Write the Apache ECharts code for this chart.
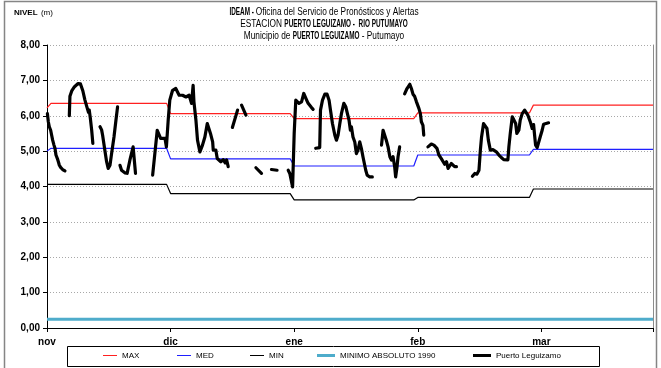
<!DOCTYPE html>
<html>
<head>
<meta charset="utf-8">
<script src="https://cdn.jsdelivr.net/npm/echarts@6/dist/echarts.min.js"></script>
<style>
html,body{margin:0;padding:0;background:#fff;}
#chart{width:661px;height:368px;}
</style>
</head>
<body>
<div id="chart"></div>
<script>
// Time axis: days counted from 31 October; month labels every 31 days
const monthLabels = ['nov', 'dic', 'ene', 'feb', 'mar'];
const monthLabelDays = [0, 31, 62, 93, 124];
// First day of each month on the same day count (leap-year February)
const monthFirstDay = [1, 31, 62, 93, 122];
const lastDay = 152;

// Historical monthly levels (m)
const maxLevel = [6.35, 6.06, 5.92, 6.08, 6.30];
const medLevel = [5.08, 4.78, 4.58, 4.89, 5.05];
const minLevel = [4.06, 3.80, 3.62, 3.69, 3.93];
// Level carried over from October at the start of the period
const openLevel = [6.22, 5.00, 4.06]; // MAX, MED, MIN
const absoluteMin1990 = 0.25;

// Observed stage at Puerto Leguizamo (day count, metres); null marks a gap in readings
const obsDay = [
  0.1, 0.33, 0.58, 0.92, 1.17, 1.42, 1.75, 2.0, 2.25, 2.6, 2.85, 3.1, 3.42, 3.92, 4.5, null,
  5.6, 5.75, 6.2, 6.9, 7.8, 8.4, 9.0, 9.5, 10.0, 10.4, 10.6, 10.85, 11.2, 11.5, null,
  13.3, 13.7, 13.95, 14.5, 14.95, 15.35, 15.8, 16.2, 16.8, 17.3, 17.7, null,
  18.3, 18.7, 19.1, 19.6, null,
  20.1, 20.8, 21.6, 22.0, 22.2, null,
  26.5, 27.05, 27.65, 28.15, 28.5, 29.0, 29.6, 29.95, 30.4, 30.8, 31.5, 32.3, 33.15, 34.0, 34.85, 35.65,
  36.25, 36.65, 36.85, 37.35, 37.75, 38.35, 39.0, 39.6, 40.2, 40.7, 41.0, 41.55, 41.7, 42.35, 42.7, 43.2,
  43.6, 44.2, 44.7, 45.05, 45.45, null,
  46.5, 47.8, null,
  48.8, 49.9, null,
  52.4, 53.8, null,
  56.3, 57.7, null,
  60.5, 60.9, 61.6, 62.0, 62.4, 62.7, 63.2, 63.85, 64.4, 64.9, 65.1, 65.5, 66.35, 66.75, null,
  67.4, 68.4, 68.6, 69.1, 69.7, 70.25, 70.75, 71.1, 71.6, 72.2, 72.6, 73.0, 73.45, 73.85, 74.45, 74.95,
  75.35, 75.75, 76.1, 76.35, 76.75, 77.2, 77.6, 78.0, 78.45, 78.85, 79.25, 79.65, 79.95, 80.3, 80.95, 81.6, null,
  83.9, 84.3, 84.7, 85.1, 85.55, 86.0, 86.4, 86.8, 87.2, 87.45, 87.8, 88.05, 88.45, null,
  89.7, 90.3, 91.0, 91.4, 91.8, 92.2, 92.65, 93.3, 93.65, 93.9, 94.3, 94.5, null,
  95.55, 96.4, 97.05, 97.8, 98.3, 98.9, 99.3, 99.75, 100.2, 100.6, 101.0, 101.4, 101.8, 102.25, 102.7, null,
  106.7, 107.3, 107.85, 108.35, 108.7, 109.0, 109.5, 110.0, 110.35, 110.7, 111.2, 111.85, 112.3, 112.7,
  113.35, 113.95, 114.55, 115.05, 115.6, 115.85, 116.2, 116.7, 117.05, 117.55, 117.85, 118.1, 118.35,
  118.7, 119.2, 119.8, 120.2, 120.6, 121.05, 121.3, 121.7, 122.05, 122.3, 122.55, 122.95, 123.35, 123.7,
  124.2, 124.55, 125.05, 125.8
];
const obsLevel = [
  6.06, 5.83, 5.69, 5.59, 5.45, 5.31, 5.17, 5.08, 4.89, 4.79, 4.70, 4.60, 4.54, 4.48, 4.44, null,
  6.00, 6.55, 6.70, 6.82, 6.91, 6.90, 6.70, 6.45, 6.25, 6.10, 6.16, 5.95, 5.60, 5.22, null,
  5.69, 5.60, 5.45, 5.03, 4.70, 4.51, 4.60, 4.93, 5.40, 5.88, 6.25, null,
  4.60, 4.46, 4.42, 4.38, null,
  4.37, 4.75, 5.12, 5.08, 4.37, null,
  4.32, 4.93, 5.59, 5.64, 5.36, 5.40, 5.36, 5.12, 5.88, 6.44, 6.72, 6.77, 6.58, 6.58, 6.53, 6.58,
  6.35, 6.86, 6.40, 5.88, 5.31, 4.98, 5.17, 5.40, 5.78, 5.83, 5.50, 5.26, 5.03, 5.03, 4.79, 4.82,
  4.70, 4.76, 4.67, 4.75, 4.56, null,
  5.67, 6.16, null,
  6.30, 6.02, null,
  4.53, 4.37, null,
  4.48, 4.46, null,
  4.46, 4.37, 3.99, 5.50, 6.44, 6.44, 6.35, 6.39, 6.63, 6.68, 6.45, 6.35, 6.23, 6.18, null,
  5.08, 5.10, 6.16, 6.44, 6.61, 6.61, 6.44, 6.16, 5.78, 5.45, 5.31, 5.45, 5.78, 6.06, 6.35, 6.25,
  6.06, 5.88, 5.59, 5.69, 5.40, 5.26, 4.93, 5.03, 5.26, 5.08, 4.84, 4.79, 4.46, 4.32, 4.27, 4.27, null,
  5.17, 5.59, 5.45, 5.31, 5.12, 4.84, 4.75, 4.84, 4.56, 4.27, 4.56, 4.84, 5.12, null,
  6.62, 6.77, 6.89, 6.77, 6.61, 6.55, 6.40, 6.20, 6.06, 5.83, 5.73, 5.45, null,
  5.12, 5.20, 5.17, 5.08, 4.89, 4.79, 4.82, 4.63, 4.70, 4.51, 4.56, 4.65, 4.60, 4.56, 4.56, null,
  4.29, 4.37, 4.35, 4.46, 5.03, 5.40, 5.78, 5.83, 5.64, 5.31, 5.03, 5.04, 5.06, 4.98,
  4.89, 4.82, 4.76, 4.73, 4.75, 5.12, 5.50, 5.97, 6.02, 5.78, 5.50, 5.45, 5.59,
  5.88, 6.06, 6.16, 6.11, 6.02, 5.88, 5.80, 5.64, 5.75, 5.45, 5.17, 5.10, 5.15, 5.40,
  5.59, 5.76, 5.80, 5.80
];

// Heading lines: pieces of [text, bold]
const titleLines = [
  [['IDEAM - ', true], ['Oficina del Servicio de Pronósticos y Alertas', false]],
  [['ESTACION ', false], ['PUERTO LEGUIZAMO -  RIO PUTUMAYO', true]],
  [['Municipio de ', false], ['PUERTO LEGUIZAMO', true], [' - Putumayo', false]]
];

const FONT = "'Liberation Sans', Arial, sans-serif";
const TITLE_SIZE = 10;
const REG_SCALE = 0.83;   // condensed face for the heading
const BOLD_SCALE = 0.64;

// Monthly step line: flat within each month, one-day ramp at month changes
function monthlySteps(open, levels) {
  const pts = [[0, open]];
  levels.forEach((v, i) => {
    const end = i < levels.length - 1 ? monthFirstDay[i + 1] - 1 : lastDay;
    pts.push([monthFirstDay[i], v], [end, v]);
  });
  return pts;
}

// Lay out the heading as condensed text pieces centred on cx
const measureCtx = document.createElement('canvas').getContext('2d');
function headingGraphics(cx, y0, step) {
  const out = [];
  titleLines.forEach((pieces, li) => {
    const widths = pieces.map(([t, b]) => {
      measureCtx.font = (b ? 'bold ' : '') + TITLE_SIZE + 'px ' + FONT;
      return measureCtx.measureText(t).width * (b ? BOLD_SCALE : REG_SCALE);
    });
    const total = widths.reduce((a, w) => a + w, 0);
    let x = cx - total / 2;
    pieces.forEach(([t, b], k) => {
      out.push({
        type: 'text', x: x, y: y0 + li * step, scaleX: b ? BOLD_SCALE : REG_SCALE, silent: true,
        style: { text: t, fontSize: TITLE_SIZE, fontWeight: b ? 'bold' : 'normal', fontFamily: FONT,
                 fill: '#000', align: 'left', verticalAlign: 'middle' }
      });
      x += widths[k];
    });
  });
  return out;
}

const obsData = obsDay.map((d, i) => (d === null || obsLevel[i] === null) ? '-' : [d, obsLevel[i]]);

const chart = echarts.init(document.getElementById('chart'), null, { renderer: 'canvas' });

function legendAt(name, left, width, height) {
  return {
    data: [name], left: left, top: 351.5, padding: 0,
    icon: 'rect', itemWidth: width, itemHeight: height,
    textStyle: { fontSize: 8, color: '#000', fontFamily: FONT },
    selectedMode: false
  };
}

chart.setOption({
  animation: false,
  backgroundColor: '#fff',
  grid: { left: 47, right: 8, top: 45, bottom: 40, containLabel: false },
  xAxis: {
    type: 'value', min: 0, max: lastDay, interval: 31,
    axisLine: { show: true, lineStyle: { color: '#000', width: 1 } },
    axisTick: { show: true, length: 4, lineStyle: { color: '#000' } },
    splitLine: { show: false },
    axisLabel: {
      margin: 9, fontSize: 10, fontWeight: 'bold', color: '#000', fontFamily: FONT,
      formatter: v => { const k = monthLabelDays.indexOf(v); return k >= 0 ? monthLabels[k] : ''; }
    }
  },
  yAxis: [{
    type: 'value', min: 0, max: 8, interval: 1,
    axisLine: { show: true, lineStyle: { color: '#000', width: 1 } },
    axisTick: { show: true, length: 4, lineStyle: { color: '#000' } },
    splitLine: { show: true, lineStyle: { color: '#a8a8a8', type: [1, 2], width: 1 } },
    axisLabel: {
      margin: 7, fontSize: 10, fontWeight: 'bold', color: '#000', fontFamily: FONT,
      formatter: v => v.toFixed(2).replace('.', ',')
    }
  }, {
    type: 'value', min: 0, max: 8, position: 'right',
    axisLine: { show: true, lineStyle: { color: '#8c8c8c', width: 1 } },
    axisTick: { show: false }, axisLabel: { show: false }, splitLine: { show: false }
  }],
  legend: [
    legendAt('MAX', 103, 14, 1),
    legendAt('MED', 177, 14, 1),
    legendAt('MIN', 250, 14, 1),
    legendAt('MINIMO ABSOLUTO 1990', 317, 18, 3),
    legendAt('Puerto Leguizamo', 473, 18, 3)
  ],
  series: [
    {
      name: 'MINIMO ABSOLUTO 1990', type: 'line', symbol: 'none', silent: true,
      data: [[0, absoluteMin1990], [lastDay, absoluteMin1990]],
      lineStyle: { color: '#4eaccb', width: 3 }, itemStyle: { color: '#4eaccb' }
    },
    {
      name: 'MAX', type: 'line', symbol: 'none', silent: true,
      data: monthlySteps(openLevel[0], maxLevel),
      lineStyle: { color: '#ff2020', width: 1.2 }, itemStyle: { color: '#ff2020' }
    },
    {
      name: 'MED', type: 'line', symbol: 'none', silent: true,
      data: monthlySteps(openLevel[1], medLevel),
      lineStyle: { color: '#1f1fff', width: 1.2 }, itemStyle: { color: '#1f1fff' }
    },
    {
      name: 'MIN', type: 'line', symbol: 'none', silent: true,
      data: monthlySteps(openLevel[2], minLevel),
      lineStyle: { color: '#000', width: 1.2 }, itemStyle: { color: '#000' }
    },
    {
      name: 'Puerto Leguizamo', type: 'line', symbol: 'none', silent: true,
      connectNulls: false, data: obsData,
      lineStyle: { color: '#000', width: 3.2, join: 'round', cap: 'round' }, itemStyle: { color: '#000' }
    }
  ],
  graphic: [
    { type: 'rect', silent: true, z: -1,
      shape: { x: 4.5, y: 1.5, width: 652, height: 400 },
      style: { fill: null, stroke: '#858585', lineWidth: 1.5 } },
    { type: 'rect', silent: true,
      shape: { x: 67.5, y: 346.5, width: 532, height: 20 },
      style: { fill: null, stroke: '#000', lineWidth: 1 } },
    { type: 'text', x: 14, y: 13, silent: true,
      style: { text: '{b|NIVEL} {n|(m)}', verticalAlign: 'middle',
        rich: { b: { fontSize: 8, fontWeight: 'bold', fontFamily: FONT, fill: '#000' },
                n: { fontSize: 8, fontFamily: FONT, fill: '#000' } } } }
  ].concat(headingGraphics(324, 12, 12))
});
</script>
</body>
</html>
